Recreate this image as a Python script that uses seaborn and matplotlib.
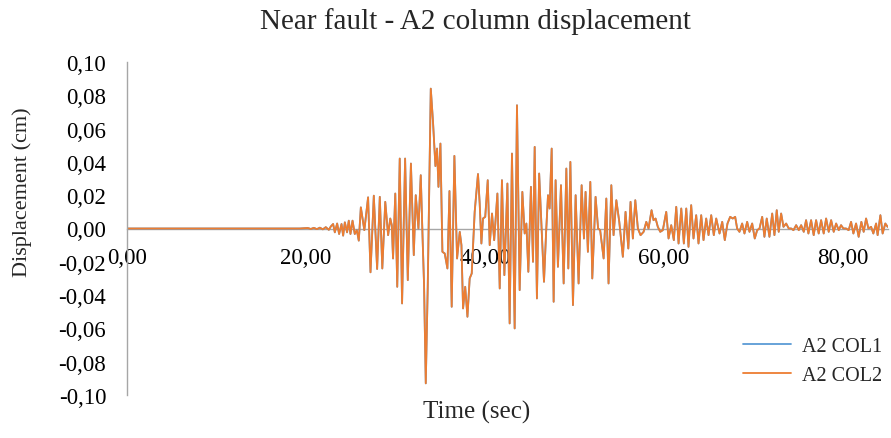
import matplotlib
matplotlib.use("Agg")
import matplotlib.pyplot as plt
import matplotlib.ticker as mticker
from matplotlib.lines import Line2D
import seaborn as sns
import pandas as pd

# ---- data ----
time_sec = [
    0.00, 19.33, 20.22, 20.56, 20.89, 21.23, 21.56, 21.90, 22.23, 22.57, 22.79,
    23.05, 23.24, 23.50, 23.72, 23.99, 24.17, 24.36, 24.61, 24.80, 24.99, 25.22,
    25.47, 25.70, 25.92, 26.15, 26.54, 26.96, 27.23, 27.60, 27.97, 28.27, 28.55,
    28.88, 29.20, 29.44, 29.61, 29.75, 30.00, 30.22, 30.50, 30.76, 31.10, 31.40,
    31.75, 32.07, 32.29, 32.59, 32.85, 33.05, 33.22, 33.41, 33.63, 33.97, 34.22,
    34.49, 34.67, 34.83, 35.05, 35.27, 35.53, 35.83, 36.06, 36.31, 36.61, 36.91,
    37.21, 37.40, 37.58, 37.82, 38.07, 38.32, 38.55, 38.88, 39.25, 39.44, 39.63,
    39.81, 40.06, 40.34, 40.56, 40.82, 41.06, 41.42, 41.68, 41.93, 42.20, 42.54,
    42.79, 43.05, 43.35, 43.61, 43.91, 44.21, 44.47, 44.66, 44.88, 45.17, 45.40,
    45.59, 45.84, 46.09, 46.63, 46.87, 47.08, 47.26, 47.49, 47.71, 47.93, 48.19,
    48.53, 48.83, 49.13, 49.35, 49.58, 49.87, 50.17, 50.50, 50.84, 51.10, 51.28,
    51.54, 51.81, 52.03, 52.40, 52.68, 52.91, 53.30, 53.60, 53.85, 54.16, 54.41,
    54.72, 55.05, 55.45, 55.75, 56.06, 56.31, 56.57, 56.84, 57.13, 57.43, 57.77,
    58.07, 58.32, 58.66, 58.88, 59.11, 59.36, 59.63, 59.92, 60.30, 60.56, 60.86,
    61.15, 61.42, 61.68, 61.98, 62.27, 62.54, 62.79, 63.09, 63.35, 63.65, 63.91,
    64.21, 64.47, 64.77, 65.03, 65.33, 65.62, 65.89, 66.26, 66.56, 66.85, 67.15,
    67.45, 67.74, 68.01, 68.23, 68.49, 68.79, 69.05, 69.35, 69.61, 69.91, 70.20,
    70.47, 70.73, 71.03, 71.28, 71.54, 71.84, 72.15, 72.40, 72.66, 72.88, 73.15,
    73.41, 73.71, 74.00, 74.27, 74.53, 74.83, 75.12, 75.39, 75.68, 75.94, 76.20,
    76.50, 76.79, 77.06, 77.35, 77.62, 77.91, 78.18, 78.47, 78.74, 79.03, 79.30,
    79.59, 79.85, 80.11, 80.41, 80.70, 80.97, 81.23, 81.53, 81.82, 82.12, 82.38,
    82.65, 82.91, 83.21, 83.46, 83.77, 83.94, 84.25, 84.50, 84.80, 85.06,
]

a2_col1 = [
    0.0000, 0.0000, 0.0003, -0.0003, 0.0004, -0.0004, 0.0005, -0.0005, 0.0008, -0.0008, 0.0012,
    0.0027, -0.0023, 0.0030, -0.0033, 0.0027, -0.0043, 0.0037, -0.0023, 0.0047, -0.0033, 0.0047,
    -0.0033, -0.0010, -0.0073, 0.0127, -0.0010, 0.0187, -0.0263, 0.0197, -0.0243, 0.0190, -0.0240,
    0.0160, -0.0040, 0.0060, 0.0020, -0.0180, 0.0210, -0.0350, 0.0420, -0.0450, 0.0420, -0.0310,
    0.0390, -0.0160, 0.0200, 0.0000, 0.0320, -0.0050, -0.0340, -0.0930, -0.0350, 0.0840, 0.0640,
    0.0375, 0.0480, 0.0250, 0.0510, -0.0140, -0.0150, -0.0240, 0.0225, -0.0470, 0.0436, -0.0180,
    -0.0020, -0.0100, -0.0480, -0.0350, -0.0530, -0.0300, -0.0270, 0.0100, 0.0327, 0.0150, -0.0090,
    0.0060, 0.0070, 0.0290, -0.0100, 0.0090, -0.0070, 0.0210, -0.0360, 0.0290, -0.0280, 0.0270,
    -0.0570, 0.0450, -0.0600, 0.0740, -0.0370, 0.0220, -0.0030, 0.0030, -0.0260, 0.0250, -0.0200,
    0.0490, -0.0420, 0.0330, -0.0320, -0.0020, 0.0200, 0.0120, 0.0480, -0.0440, 0.0290, -0.0230,
    0.0260, -0.0330, 0.0360, -0.0240, 0.0400, -0.0460, 0.0200, -0.0330, 0.0260, -0.0060, 0.0220,
    -0.0140, 0.0280, -0.0300, 0.0190, 0.0000, -0.0010, -0.0180, 0.0180, -0.0330, 0.0260, -0.0040,
    0.0170, 0.0040, -0.0170, 0.0100, -0.0120, 0.0160, -0.0060, 0.0170, 0.0000, -0.0040, -0.0020,
    0.0040, 0.0000, 0.0110, 0.0050, 0.0060, 0.0010, -0.0020, -0.0010, 0.0100, -0.0060, 0.0020,
    -0.0070, 0.0130, -0.0090, 0.0120, -0.0090, 0.0120, -0.0110, 0.0140, -0.0060, 0.0080, -0.0090,
    0.0080, -0.0070, 0.0060, -0.0040, 0.0080, -0.0040, 0.0060, -0.0030, 0.0040, -0.0070, 0.0030,
    0.0070, 0.0060, 0.0070, 0.0000, -0.0020, 0.0030, -0.0030, 0.0040, -0.0020, 0.0030, -0.0060,
    -0.0010, 0.0000, 0.0070, -0.0050, 0.0060, -0.0050, 0.0090, -0.0040, 0.0110, -0.0020, 0.0090,
    0.0010, 0.0030, 0.0000, 0.0000, -0.0010, 0.0020, -0.0010, 0.0020, -0.0020, 0.0050, -0.0030,
    0.0050, -0.0040, 0.0050, -0.0030, 0.0050, -0.0030, 0.0060, -0.0020, 0.0050, -0.0020, 0.0030,
    -0.0010, 0.0020, 0.0000, 0.0000, -0.0010, 0.0040, -0.0030, 0.0030, -0.0050, 0.0040, -0.0020,
    0.0060, 0.0000, 0.0010, -0.0030, 0.0030, -0.0040, 0.0080, -0.0030, 0.0030, 0.0010,
]
a2_col2 = list(a2_col1)  # the two columns overlap exactly in the reference

series_names = ["A2 COL1", "A2 COL2"]
series_colors = ["#5B9BD5", "#ED7D31"]
y_ticks = [-0.10, -0.08, -0.06, -0.04, -0.02, 0.00, 0.02, 0.04, 0.06, 0.08, 0.10]
x_ticks = [0, 20, 40, 60, 80]

df = pd.concat([
    pd.DataFrame({"Time": time_sec, "Disp": a2_col1, "Series": series_names[0]}),
    pd.DataFrame({"Time": time_sec, "Disp": a2_col2, "Series": series_names[1]}),
], ignore_index=True)

sns.set_theme(style="white")
plt.rcParams["font.family"] = ["Liberation Serif", "DejaVu Serif"]

fig = plt.figure(figsize=(8.91, 4.39), dpi=100)
ax = fig.add_axes([127 / 891, 1 - 396 / 439, (888 - 127) / 891, (396 - 63) / 439])

sns.lineplot(data=df, x="Time", y="Disp", hue="Series", palette=series_colors,
             hue_order=series_names, sort=False, estimator=None, linewidth=1.3,
             ax=ax, legend=False)

ax.set_xlim(0, 85.1)
ax.set_ylim(-0.10, 0.10)

for s in ["top", "right"]:
    ax.spines[s].set_visible(False)
ax.spines["bottom"].set_position(("data", 0))
ax.spines["bottom"].set_color("#A6A6A6")
ax.spines["left"].set_color("#A6A6A6")
ax.spines["bottom"].set_linewidth(1.0)
ax.spines["left"].set_linewidth(1.0)
ax.spines["bottom"].set_zorder(0.5)

comma = mticker.FuncFormatter(lambda v, p: ("%.2f" % (0.0 if abs(v) < 1e-9 else v)).replace(".", ","))
ax.set_yticks(y_ticks)
ax.set_xticks(x_ticks)
ax.yaxis.set_major_formatter(comma)
ax.xaxis.set_major_formatter(comma)
ax.tick_params(axis="both", length=0, labelsize=16.5, colors="#000000")
ax.tick_params(axis="y", pad=15)
ax.tick_params(axis="x", pad=13)
ax.grid(False)

ax.set_xlabel("")
ax.set_ylabel("")
fig.text(477 / 891, 1 - 412 / 439, "Time (sec)", ha="center", va="center", fontsize=18)
fig.text(22 / 891, 1 - 192 / 439, "Displacement (cm)", ha="center", va="center",
         rotation=90, fontsize=16)
fig.text(475 / 891, 1 - 22 / 439, "Near fault - A2 column displacement", ha="center",
         va="center", fontsize=21)

handles = [Line2D([], [], color=c, lw=1.3) for c in series_colors]
fig.legend(handles, series_names, loc="center left",
           bbox_to_anchor=(725 / 891, 1 - 362 / 439), frameon=False, fontsize=14.5,
           handlelength=2.4, handletextpad=0.5, labelspacing=0.5)

fig.savefig("out.png", dpi=100)
